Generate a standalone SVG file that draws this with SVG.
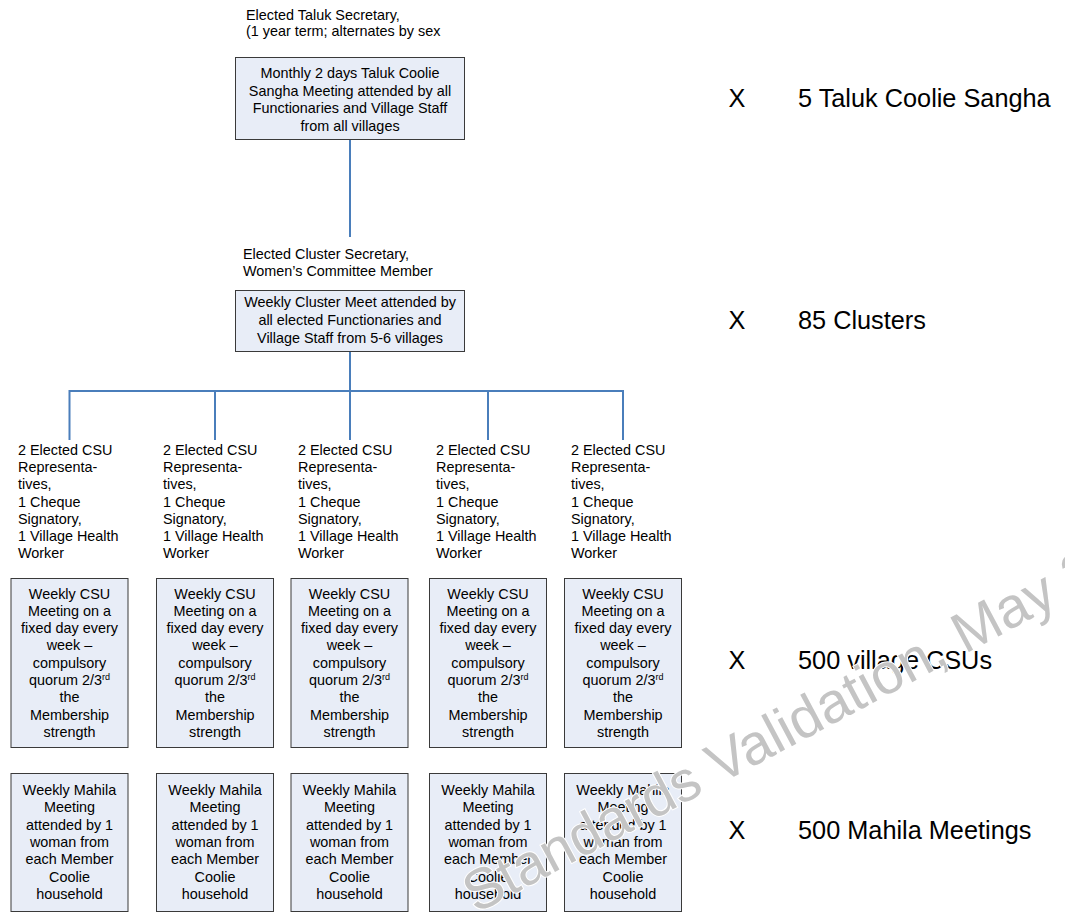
<svg xmlns="http://www.w3.org/2000/svg" width="1065" height="912" viewBox="0 0 1065 912">
  <style>
    text { font-family: "Liberation Sans", Arial, sans-serif; fill: #000; }
    .t { font-size: 14.4px; }
    .c { text-anchor: middle; }
    .big { font-size: 25.3px; }
    .box { fill: #e8edf7; stroke: #3a3a3a; stroke-width: 1; }
    .link { fill: none; stroke: #4a7ebb; stroke-width: 2; }
    .sup { font-size: 9px; }
    .wm { font-size: 57px; fill: #c4c4c4; stroke: #ffffff; stroke-width: 2; paint-order: stroke; }
  </style>

  <!-- connectors -->
  <g id="connectors">
    <line class="link" x1="350" y1="140" x2="350" y2="237"/>
    <line class="link" x1="350" y1="352" x2="350" y2="391"/>
    <polyline class="link" points="69.5,440 69.5,391 623,391 623,440"/>
    <line class="link" x1="215" y1="391" x2="215" y2="440"/>
    <line class="link" x1="350" y1="391" x2="350" y2="440"/>
    <line class="link" x1="488" y1="391" x2="488" y2="440"/>
  </g>

  <!-- taluk level -->
  <g id="taluk-label">
    <text class="t" x="246" y="20">Elected Taluk Secretary,</text>
    <text class="t" x="246" y="36">(1 year term; alternates by sex</text>
  </g>
  <g id="taluk-meeting">
    <rect class="box" x="235.5" y="57.5" width="229" height="82"/>
    <text class="t c" x="350" y="78">Monthly 2 days Taluk Coolie</text>
    <text class="t c" x="350" y="95.5">Sangha Meeting attended by all</text>
    <text class="t c" x="350" y="113">Functionaries and Village Staff</text>
    <text class="t c" x="350" y="130.5">from all villages</text>
  </g>

  <!-- cluster level -->
  <g id="cluster-label">
    <text class="t" x="243" y="259">Elected Cluster Secretary,</text>
    <text class="t" x="243" y="276">Women’s Committee Member</text>
  </g>
  <g id="cluster-meeting">
    <rect class="box" x="235.5" y="290.5" width="229" height="61"/>
    <text class="t c" x="350" y="307">Weekly Cluster Meet attended by</text>
    <text class="t c" x="350" y="325">all elected Functionaries and</text>
    <text class="t c" x="350" y="343">Village Staff from 5-6 villages</text>
  </g>

  <!-- CSU representatives, one per village column -->
  <defs>
    <g id="rep-text">
      <text class="t" x="0" y="455">2 Elected CSU</text>
      <text class="t" x="0" y="472.2">Representa-</text>
      <text class="t" x="0" y="489.4">tives,</text>
      <text class="t" x="0" y="506.6">1 Cheque</text>
      <text class="t" x="0" y="523.8">Signatory,</text>
      <text class="t" x="0" y="541">1 Village Health</text>
      <text class="t" x="0" y="558.2">Worker</text>
    </g>
    <g id="csu-box">
      <rect class="box" x="-58.5" y="578.5" width="117" height="169"/>
      <text class="t c" x="0" y="598.5">Weekly CSU</text>
      <text class="t c" x="0" y="615.8">Meeting on a</text>
      <text class="t c" x="0" y="633.1">fixed day every</text>
      <text class="t c" x="0" y="650.4">week –</text>
      <text class="t c" x="0" y="667.7">compulsory</text>
      <text class="t c" x="0" y="685">quorum 2/3<tspan class="sup" dy="-5">rd</tspan></text>
      <text class="t c" x="0" y="702.3">the</text>
      <text class="t c" x="0" y="719.6">Membership</text>
      <text class="t c" x="0" y="736.9">strength</text>
    </g>
    <g id="mahila-box">
      <rect class="box" x="-58.5" y="773.5" width="117" height="138"/>
      <text class="t c" x="0" y="795">Weekly Mahila</text>
      <text class="t c" x="0" y="812.3">Meeting</text>
      <text class="t c" x="0" y="829.6">attended by 1</text>
      <text class="t c" x="0" y="846.9">woman from</text>
      <text class="t c" x="0" y="864.2">each Member</text>
      <text class="t c" x="0" y="881.5">Coolie</text>
      <text class="t c" x="0" y="898.8">household</text>
    </g>
  </defs>

  <g id="reps-1"><use href="#rep-text" x="18"/></g>
  <g id="reps-2"><use href="#rep-text" x="163"/></g>
  <g id="reps-3"><use href="#rep-text" x="298"/></g>
  <g id="reps-4"><use href="#rep-text" x="436"/></g>
  <g id="reps-5"><use href="#rep-text" x="571"/></g>

  <g id="csu-1"><use href="#csu-box" x="69.5"/></g>
  <g id="csu-2"><use href="#csu-box" x="215"/></g>
  <g id="csu-3"><use href="#csu-box" x="349.5"/></g>
  <g id="csu-4"><use href="#csu-box" x="488"/></g>
  <g id="csu-5"><use href="#csu-box" x="623"/></g>

  <g id="mahila-1"><use href="#mahila-box" x="69.5"/></g>
  <g id="mahila-2"><use href="#mahila-box" x="215"/></g>
  <g id="mahila-3"><use href="#mahila-box" x="349.5"/></g>
  <g id="mahila-4"><use href="#mahila-box" x="488"/></g>
  <g id="mahila-5"><use href="#mahila-box" x="623"/></g>

  <!-- multipliers per level -->
  <g id="count-taluk">
    <text class="big c" x="737" y="107">X</text>
    <text class="big" x="798" y="107">5 Taluk Coolie Sangha</text>
  </g>
  <g id="count-clusters">
    <text class="big c" x="737" y="329">X</text>
    <text class="big" x="798" y="329">85 Clusters</text>
  </g>
  <g id="count-csus">
    <text class="big c" x="737" y="669">X</text>
    <text class="big" x="798" y="669">500 village CSUs</text>
  </g>
  <g id="count-mahila">
    <text class="big c" x="737" y="839">X</text>
    <text class="big" x="798" y="839">500 Mahila Meetings</text>
  </g>

  <!-- watermark -->
  <text class="wm" x="476" y="914" transform="rotate(-28 476 914)">Standards Validation, May 2</text>
</svg>
